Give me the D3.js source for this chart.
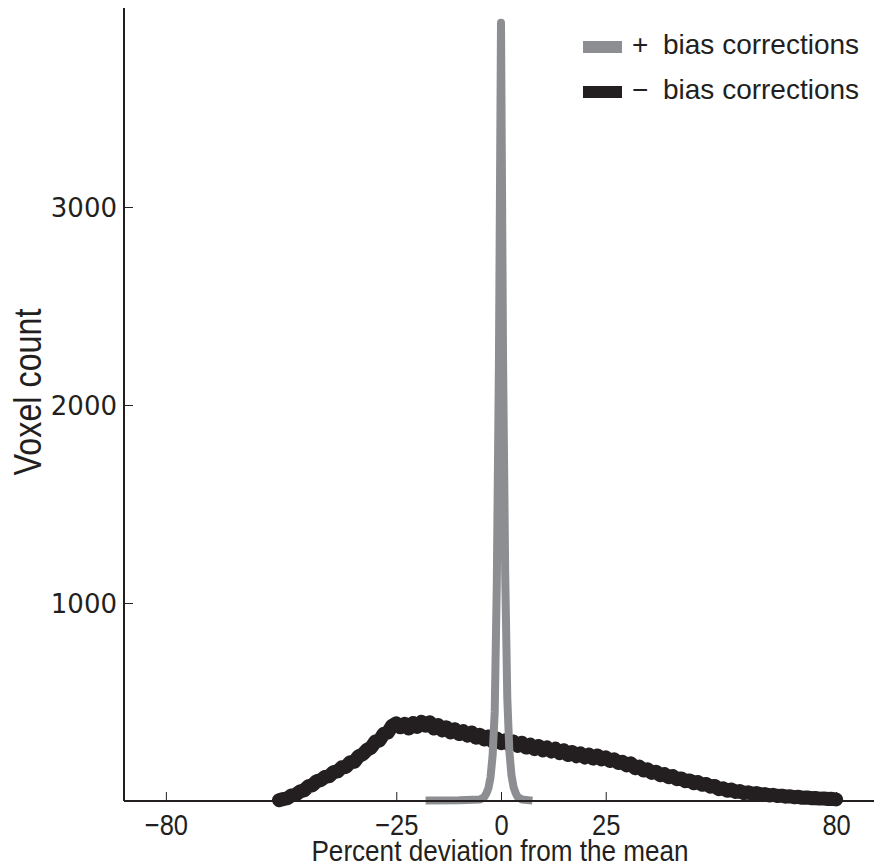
<!DOCTYPE html>
<html><head><meta charset="utf-8">
<script src="https://cdn.jsdelivr.net/npm/d3@7/dist/d3.min.js"></script>
<style>body{margin:0;background:#fff;}svg{display:block;}</style>
</head><body>
<div id="chart"></div>
<script>
// ---- data ----
const xTicks = [-80, -25, 0, 25, 80];
const yTicks = [1000, 2000, 3000];
const legendSymbols = ["+", "\u2212"];
const legendNames = ["bias corrections", "bias corrections"];
// "+ bias corrections" (gray, sharp peak)
const plusX = [-18, -10, -5, -4, -3.5, -3, -2.5, -2, -1.5, -1, -0.5, 0, 0.5, 1, 1.5, 2, 2.5, 3, 3.5, 4, 5, 7.5];
const plusY = [2, 4, 8, 20, 38, 65, 120, 230, 450, 1100, 2200, 3930, 2200, 1150, 520, 250, 130, 70, 40, 20, 8, 2];
// "- bias corrections" (black, broad), x = -53 .. 80
const minusX = d3.range(-53, 81, 1);
const minusY = [4, 10, 14, 28, 32, 48, 54, 74, 80, 100,
  106, 122, 126, 146, 150, 170, 172, 196, 198, 226,
  236, 258, 270, 300, 306, 340, 346, 380, 392, 372,
  390, 366, 394, 374, 400, 380, 398, 366, 384, 356,
  372, 346, 362, 338, 352, 330, 346, 320, 334, 310,
  326, 300, 316, 292, 306, 284, 300, 278, 294, 270,
  284, 262, 278, 256, 270, 250, 264, 242, 256, 232,
  248, 226, 240, 220, 234, 214, 230, 210, 220, 202,
  210, 192, 198, 180, 190, 166, 174, 154, 160, 142,
  148, 130, 136, 120, 126, 110, 114, 100, 104, 90,
  96, 82, 86, 72, 76, 60, 64, 52, 58, 46,
  50, 40, 44, 36, 40, 32, 35, 28, 31, 25,
  27, 22, 24, 19, 21, 16, 18, 14, 15, 12,
  13, 10, 11, 8];

const W = 874, H = 867;
const svg = d3.select("#chart").append("svg").attr("width", W).attr("height", H);

const x = d3.scaleLinear().domain([-90, 90]).range([124, 878]);
const y = d3.scaleLinear().domain([0, 4000]).range([801, 9]);
const ink = "#231f20", gray = "#8d8e92";
const sans = "'Liberation Sans', Arial, sans-serif";

const line = d3.line().x(d => x(d[0])).y(d => y(d[1]));

// black series
svg.append("path")
  .datum(d3.zip(minusX, minusY))
  .attr("d", line)
  .attr("fill", "none").attr("stroke", ink)
  .attr("stroke-width", 14).attr("stroke-linejoin", "round").attr("stroke-linecap", "round");

// gray series
svg.append("path")
  .datum(d3.zip(plusX, plusY))
  .attr("d", line)
  .attr("fill", "none").attr("stroke", gray)
  .attr("stroke-width", 8).attr("stroke-linejoin", "round").attr("stroke-linecap", "butt");

// axes
const xAxis = d3.axisBottom(x).tickValues(xTicks).tickSize(-9).tickSizeOuter(0)
  .tickFormat(d => d < 0 ? "\u2212" + Math.abs(d) : String(d));
const gx = svg.append("g").attr("transform", "translate(0,801)").call(xAxis);
gx.select(".domain").attr("d", "M124,0H874").attr("stroke", ink).attr("stroke-width", 2);
gx.selectAll(".tick line").attr("stroke", ink).attr("stroke-width", 1);
gx.selectAll(".tick text").attr("fill", ink)
  .attr("font-family", sans).attr("font-size", 29)
  .attr("dy", 0).attr("y", 0)
  .attr("transform", "translate(0,34) scale(0.88,1)");

const yAxis = d3.axisLeft(y).tickValues(yTicks).tickSize(-9).tickSizeOuter(0).tickFormat(d3.format("d"));
const gy = svg.append("g").attr("transform", "translate(124,0)").call(yAxis);
gy.select(".domain").attr("d", "M0,8V801").attr("stroke", ink).attr("stroke-width", 2);
gy.selectAll(".tick line").attr("stroke", ink).attr("stroke-width", 1);
gy.selectAll(".tick text").attr("fill", ink)
  .attr("font-family", "'DejaVu Sans', Arial, sans-serif")
  .attr("font-size", 26).attr("x", -7).attr("dy", "0.36em");

// axis titles (condensed look)
svg.append("text").attr("transform", "translate(500,861) scale(0.9,1)").attr("text-anchor", "middle")
  .attr("font-family", sans).attr("font-size", 29).attr("fill", ink)
  .text("Percent deviation from the mean");
svg.append("text").attr("transform", "translate(41,392) rotate(-90) scale(0.85,1)").attr("text-anchor", "middle")
  .attr("font-family", sans).attr("font-size", 38).attr("fill", ink).text("Voxel count");

// legend
const legColors = [gray, ink];
const leg = svg.append("g");
legendNames.forEach((name, i) => {
  const yy = 47 + i * 45;
  leg.append("rect").attr("x", 583).attr("y", yy - 6).attr("width", 39).attr("height", 12).attr("fill", legColors[i]);
  leg.append("text").attr("x", 632).attr("y", yy + 7)
    .attr("font-family", sans).attr("font-size", 28)
    .attr("fill", ink).text(legendSymbols[i]);
  leg.append("text").attr("x", 663).attr("y", yy + 7)
    .attr("font-family", sans).attr("font-size", 28)
    .attr("fill", ink).text(name);
});
</script>
</body></html>
